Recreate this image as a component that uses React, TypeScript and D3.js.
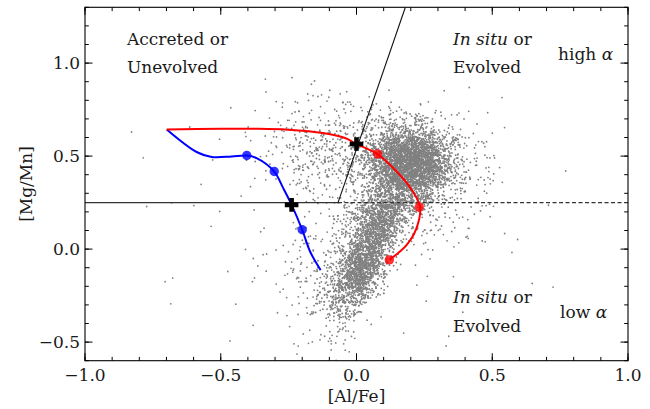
import React, { useMemo } from "react";
import * as d3 from "d3";

// ---- chart data ----------------------------------------------------------

// Axis ranges and ticks
const xDomain: [number, number] = [-1.0, 1.0];
const yDomain: [number, number] = [-0.6, 1.3];
const xMajorTicks = [-1.0, -0.5, 0.0, 0.5, 1.0];
const yMajorTicks = [-0.5, 0.0, 0.5, 1.0];

// Dividing lines: horizontal cut at [Mg/Mn] = 0.25 and the sloped boundary
const cutY = 0.25;
const cutKneeX = -0.068;
const slopeTop: [number, number] = [0.18, 1.3];

// Chemical-evolution tracks ([Al/Fe], [Mg/Mn])
const redTrack: [number, number][] = [
  [-0.699, 0.643], [-0.5, 0.647], [-0.374, 0.647], [-0.252, 0.642],
  [-0.123, 0.624], [-0.042, 0.597], [0.0, 0.565], [0.077, 0.511],
  [0.148, 0.417], [0.203, 0.319], [0.234, 0.226], [0.221, 0.113],
  [0.185, 0.023], [0.121, -0.058],
];
const blueTrack: [number, number][] = [
  [-0.699, 0.643], [-0.589, 0.522], [-0.533, 0.495], [-0.46, 0.498],
  [-0.404, 0.503], [-0.368, 0.489], [-0.303, 0.417], [-0.27, 0.328],
  [-0.239, 0.238], [-0.2, 0.104], [-0.171, -0.013], [-0.132, -0.113],
];
const redMarkers: [number, number][] = [[0.078, 0.512], [0.231, 0.226], [0.121, -0.058]];
const blueMarkers: [number, number][] = [[-0.404, 0.503], [-0.303, 0.417], [-0.2, 0.104]];
const crossMarkers: [number, number][] = [[0.0, 0.565], [-0.239, 0.238]];

// Star sample: population components (centre, spread, correlation, count)
const popCx = [0.2, 0.17, 0.03, 0.1, -0.1, -0.12, 0.32, 0.0];
const popCy = [0.46, 0.45, -0.06, 0.2, 0.55, -0.12, 0.3, 0.25];
const popSx = [0.07, 0.12, 0.062, 0.07, 0.12, 0.1, 0.1, 0.3];
const popSy = [0.09, 0.14, 0.16, 0.08, 0.14, 0.15, 0.2, 0.35];
const popRho = [0.0, 0.0, 0.7, 0.3, 0.0, 0.3, 0.0, 0.0];
const popCount = [2900, 800, 2100, 700, 420, 220, 160, 120];

// Isolated stars far from the bulk
const outliers: [number, number][] = [
  [-0.985, -0.1], [-0.705, -0.175], [-0.677, -0.156], [-0.684, -0.294],
  [-0.773, 0.229], [-0.599, 0.234],
];

// ---- helpers ---------------------------------------------------------------

function mulberry32(seed: number) {
  let a = seed >>> 0;
  return () => {
    a = (a + 0x6d2b79f5) >>> 0;
    let t = a;
    t = Math.imul(t ^ (t >>> 15), t | 1);
    t ^= t + Math.imul(t ^ (t >>> 7), t | 61);
    return ((t ^ (t >>> 14)) >>> 0) / 4294967296;
  };
}

function buildSample(): [number, number][] {
  const rand = mulberry32(20240611);
  const gauss = () => {
    const u = Math.max(rand(), 1e-12);
    const v = rand();
    return Math.sqrt(-2 * Math.log(u)) * Math.cos(2 * Math.PI * v);
  };
  const pts: [number, number][] = [];
  popCx.forEach((cx, i) => {
    const r = popRho[i];
    for (let k = 0; k < popCount[i]; k++) {
      const g1 = gauss();
      const g2 = gauss();
      const px = cx + popSx[i] * g1;
      const py = popCy[i] + popSy[i] * (r * g1 + Math.sqrt(1 - r * r) * g2);
      if (px > xDomain[0] && px < xDomain[1] && py > yDomain[0] && py < yDomain[1]) {
        pts.push([px, py]);
      }
    }
  });
  return pts.concat(outliers);
}

const fmt = (v: number) => (v < 0 ? "\u2212" : "") + Math.abs(v).toFixed(1);

// ---- component -------------------------------------------------------------

const W = 650;
const H = 409;
const L = 85;
const R = 628;
const T = 7.3;
const B = 360.7;
const FONT = "'DejaVu Serif', serif";

export default function App() {
  const x = d3.scaleLinear().domain(xDomain).range([L, R]);
  const y = d3.scaleLinear().domain(yDomain).range([B, T]);
  const sample = useMemo(buildSample, []);

  const line = d3
    .line<[number, number]>()
    .x((d) => x(d[0]))
    .y((d) => y(d[1]))
    .curve(d3.curveCatmullRom.alpha(0.5));

  const xMinor = d3.range(-10, 11).map((i) => i / 10);
  const yMinor = d3.range(-6, 14).map((i) => i / 10);

  const plus = (cx: number, cy: number) => {
    const a = 6.8;
    const b = 2.3;
    return `M${cx - b},${cy - a}H${cx + b}V${cy - b}H${cx + a}V${cy + b}H${cx + b}V${cy + a}H${cx - b}V${cy + b}H${cx - a}V${cy - b}H${cx - b}Z`;
  };

  const textColor = "#1a1a1a";

  return (
    <svg
      width={W}
      height={H}
      style={{ position: "absolute", left: 0, top: 0, background: "#fff" }}
      fontFamily={FONT}
    >
      <defs>
        <clipPath id="plotArea">
          <rect x={L} y={T} width={R - L} height={B - T} />
        </clipPath>
      </defs>

      <g clipPath="url(#plotArea)">
        {sample.map((d, i) => (
          <circle key={i} cx={x(d[0])} cy={y(d[1])} r={0.9} fill="#808080" />
        ))}

        {/* region boundaries */}
        <line x1={x(xDomain[0])} x2={x(cutKneeX)} y1={y(cutY)} y2={y(cutY)} stroke="#333" strokeWidth={1.1} />
        <line
          x1={x(cutKneeX)}
          x2={x(xDomain[1])}
          y1={y(cutY)}
          y2={y(cutY)}
          stroke="#333"
          strokeWidth={1.1}
          strokeDasharray="4,2.5"
        />
        <line x1={x(cutKneeX)} y1={y(cutY)} x2={x(slopeTop[0])} y2={y(slopeTop[1])} stroke="#111" strokeWidth={1.1} />

        {/* tracks */}
        <path d={line(blueTrack) ?? ""} fill="none" stroke="#0000ff" strokeWidth={2} />
        <path d={line(redTrack) ?? ""} fill="none" stroke="#ff0000" strokeWidth={2} />
        {blueMarkers.map((d, i) => (
          <circle key={`b${i}`} cx={x(d[0])} cy={y(d[1])} r={4.7} fill="#0000ff" fillOpacity={0.8} />
        ))}
        {redMarkers.map((d, i) => (
          <circle key={`r${i}`} cx={x(d[0])} cy={y(d[1])} r={4.7} fill="#ff0000" fillOpacity={0.8} />
        ))}
        {crossMarkers.map((d, i) => (
          <path key={`c${i}`} d={plus(x(d[0]), y(d[1]))} fill="#000" />
        ))}
      </g>

      {/* region annotations */}
      <g fontSize={17} fill={textColor}>
        <text x={127} y={45}>Accreted or</text>
        <text x={127} y={73}>Unevolved</text>
        <text x={453} y={45}>
          <tspan fontStyle="italic">In situ</tspan> or
        </text>
        <text x={453} y={73}>Evolved</text>
        <text x={558} y={60}>
          high <tspan fontStyle="italic">α</tspan>
        </text>
        <text x={453} y={303}>
          <tspan fontStyle="italic">In situ</tspan> or
        </text>
        <text x={453} y={332}>Evolved</text>
        <text x={560} y={318}>
          low <tspan fontStyle="italic">α</tspan>
        </text>
      </g>

      {/* ticks, all four sides, pointing inward */}
      <g stroke="#000" strokeWidth={1}>
        {xMinor.map((v) => (
          <g key={`xm${v}`}>
            <line x1={x(v)} x2={x(v)} y1={B} y2={B - 3.8} />
            <line x1={x(v)} x2={x(v)} y1={T} y2={T + 3.8} />
          </g>
        ))}
        {xMajorTicks.map((v) => (
          <g key={`xM${v}`}>
            <line x1={x(v)} x2={x(v)} y1={B} y2={B - 7.5} />
            <line x1={x(v)} x2={x(v)} y1={T} y2={T + 7.5} />
          </g>
        ))}
        {yMinor.map((v) => (
          <g key={`ym${v}`}>
            <line x1={L} x2={L + 3.8} y1={y(v)} y2={y(v)} />
            <line x1={R} x2={R - 3.8} y1={y(v)} y2={y(v)} />
          </g>
        ))}
        {yMajorTicks.map((v) => (
          <g key={`yM${v}`}>
            <line x1={L} x2={L + 7.5} y1={y(v)} y2={y(v)} />
            <line x1={R} x2={R - 7.5} y1={y(v)} y2={y(v)} />
          </g>
        ))}
      </g>

      <rect x={L} y={T} width={R - L} height={B - T} fill="none" stroke="#000" strokeWidth={1.1} />

      {/* tick labels */}
      <g fontSize={17} fill={textColor}>
        {xMajorTicks.map((v) => (
          <text key={`xl${v}`} x={x(v)} y={380.5} textAnchor="middle">
            {fmt(v)}
          </text>
        ))}
        {yMajorTicks.map((v) => (
          <text key={`yl${v}`} x={80} y={y(v)} dy="0.36em" textAnchor="end">
            {fmt(v)}
          </text>
        ))}
      </g>

      {/* axis titles */}
      <text x={(L + R) / 2} y={401.5} textAnchor="middle" fontSize={17} fill={textColor}>
        [Al/Fe]
      </text>
      <text
        transform={`translate(32,${(T + B) / 2}) rotate(-90)`}
        textAnchor="middle"
        fontSize={17}
        fill={textColor}
      >
        [Mg/Mn]
      </text>
    </svg>
  );
}
